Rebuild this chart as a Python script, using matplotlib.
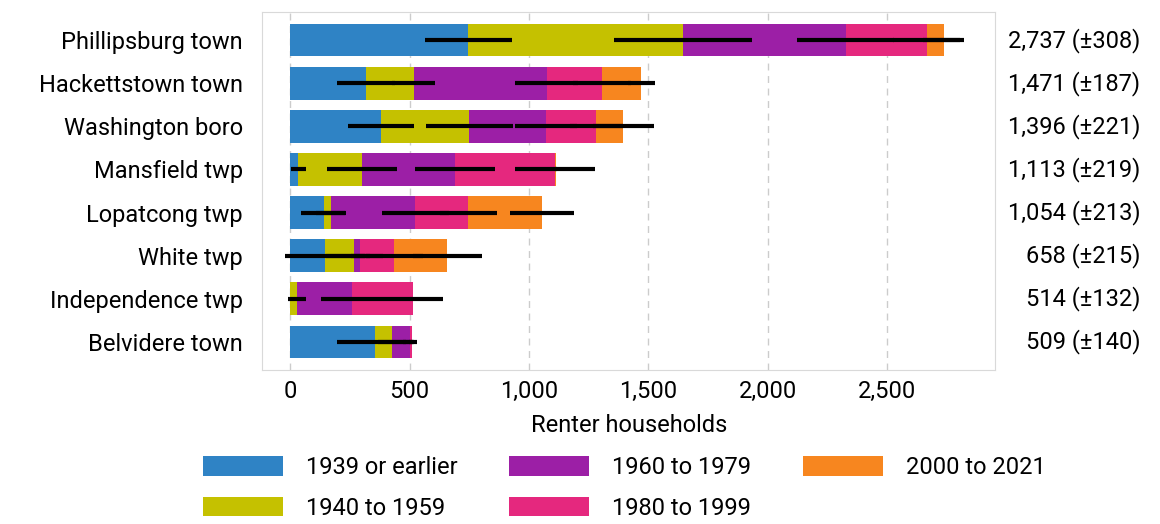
import numpy as np
import matplotlib
matplotlib.use("Agg")
import matplotlib.pyplot as plt
from matplotlib.transforms import blended_transform_factory

plt.rcParams['font.family'] = ['Roboto', 'DejaVu Sans']

places = ['Phillipsburg town', 'Hackettstown town', 'Washington boro', 'Mansfield twp',
          'Lopatcong twp', 'White twp', 'Independence twp', 'Belvidere town']
periods = ['1939 or earlier', '1940 to 1959', '1960 to 1979', '1980 to 1999', '2000 to 2021']
colors = ['#2f83c5', '#c5c100', '#9c1fa6', '#e5287e', '#f7861f']

# renter households per period (estimates)
y1939 = [747, 318, 380, 35, 140, 147, 0, 356]
y1940 = [898, 199, 371, 265, 30, 122, 28, 70]
y1960 = [681, 558, 320, 391, 354, 24, 230, 77]
y1980 = [340, 231, 211, 419, 223, 143, 256, 6]
y2000 = [71, 165, 114, 3, 307, 222, 0, 0]

# margins of error per period
m1939 = [182, 122, 138, 33, 95, 168, 0, 160]
m1940 = [290, 90, 183, 146, 60, 120, 37, 60]
m1960 = [202, 132, 130, 166, 140, 40, 130, 30]
m1980 = [140, 120, 110, 168, 119, 120, 125, 10]
m2000 = [87, 58, 129, 5, 134, 145, 0, 0]

totals = [2737, 1471, 1396, 1113, 1054, 658, 514, 509]
total_moe = [308, 187, 221, 219, 213, 215, 132, 140]

vals = np.array([y1939, y1940, y1960, y1980, y2000])
moes = np.array([m1939, m1940, m1960, m1980, m2000])

fs = 17

fig = plt.figure(figsize=(11.6, 5.24), dpi=100)
ax = fig.add_axes([0.226, 0.294, 0.632, 0.683])

ypos = np.arange(len(places))
left = np.zeros(len(places))
for i in range(len(periods)):
    ax.barh(ypos, vals[i], left=left, height=0.76, color=colors[i], label=periods[i], zorder=2)
    left = left + vals[i]
# error bars at the end of every segment
left = np.zeros(len(places))
for i in range(len(periods)):
    left = left + vals[i]
    keep = (vals[i] > 0) | (moes[i] > 0)
    ax.errorbar(left[keep], ypos[keep], xerr=moes[i][keep], fmt='none', ecolor='black',
                elinewidth=3, capsize=0, zorder=3)

ax.set_xlim(-117, 2953)
ax.set_ylim(7.65, -0.65)
ax.set_yticks(ypos)
ax.set_yticklabels(places, fontsize=fs)
ax.set_xticks([0, 500, 1000, 1500, 2000, 2500])
ax.set_xticklabels(['0', '500', '1,000', '1,500', '2,000', '2,500'], fontsize=fs)
ax.tick_params(length=0)
ax.tick_params(axis='y', pad=14)
ax.tick_params(axis='x', pad=7)
ax.xaxis.grid(True, linestyle=(0, (5, 4)), color='#cccccc', linewidth=1, zorder=0)
ax.set_axisbelow(True)
for s in ax.spines.values():
    s.set_color('#d9d9d9')
ax.set_xlabel('Renter households', fontsize=fs, labelpad=8)

tr = blended_transform_factory(fig.transFigure, ax.transData)
for y, t, m in zip(ypos, totals, total_moe):
    ax.text(0.983, y, '{:,} (\u00b1{})'.format(t, m), transform=tr,
            ha='right', va='center', fontsize=fs)

fig.legend(loc='center', bbox_to_anchor=(0.538, 0.069), ncol=3, frameon=False, fontsize=fs,
           handlelength=3.4, handleheight=0.9, columnspacing=2.2, handletextpad=0.95,
           labelspacing=0.75)

fig.savefig('out.png', dpi=100)
